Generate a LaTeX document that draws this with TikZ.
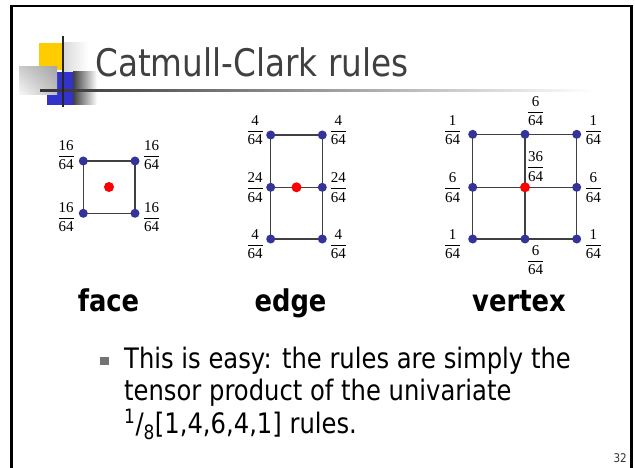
\documentclass[tikz,border=0pt]{standalone}
\usepackage{fontspec}
\usepackage{amsmath}
\setmainfont[FakeStretch=0.86]{DejaVu Sans}
\newfontfamily\fracfont{Liberation Serif}
\usepackage{xcolor}
\usepackage{tikz}
\usetikzlibrary{positioning,shadings}

\definecolor{dotblue}{RGB}{51,51,153}
\definecolor{logoyellow}{RGB}{255,204,0}
\definecolor{logoblue}{RGB}{51,51,204}
\definecolor{titlegray}{RGB}{64,64,64}
\newcommand{\wt}[2]{$\genfrac{}{}{0.9pt}{0}{\text{#1}}{\text{#2}}$}

\tikzset{
  meshline/.style={line width=1.2pt, draw=black!75},
  bluept/.style={circle, fill=dotblue, inner sep=0pt, minimum size=9pt},
  redpt/.style={circle, fill=red, inner sep=0pt, minimum size=10pt},
  wlab/.style={inner sep=0pt, font=\fracfont\fontsize{15}{17}\selectfont},
  kind/.style={anchor=base, inner sep=0pt, font=\bfseries\fontsize{30}{36}\selectfont},
  body/.style={anchor=base west, inner sep=0pt, font=\fontsize{28.2}{33}\selectfont}
}

\begin{document}
\begin{tikzpicture}[x=1pt,y=1pt]
    \useasboundingbox[fill=white] (0,0) rectangle (635,-468);

    % frame
    \draw[line width=2.5pt] (11.5,-472) -- (11.5,-5.8) -- (631.5,-5.8) -- (631.5,-472);

    % logo
    \fill[logoyellow] (39,-43) rectangle (63,-70);
    \shade[left color=gray!30, right color=white] (63,-43) rectangle (88,-72);
    \fill[logoblue] (47,-72) rectangle (73,-105);
    \shade[left color=black!75, right color=white] (73,-72) rectangle (97,-105);
    \shade[upper left=gray!40, upper right=gray!70, lower left=gray!5, lower right=gray!50] (19,-67) rectangle (57,-95);
    \shade[left color=black!80, right color=white] (40,-89.8) rectangle (594,-92);
    \draw[line width=2.5pt, black!85] (63,-36) -- (63,-107);

    % title
    \node[anchor=base west, inner sep=0pt, text=titlegray, font=\fontsize{38}{45}\selectfont] (title) at (95,-77) {Catmull-Clark rules};

    % face
    \coordinate (fa1) at (83.3,-161);
    \coordinate (fa2) at (135,-161);
    \coordinate (fa3) at (135,-213.3);
    \coordinate (fa4) at (83.3,-213.3);
    \draw[meshline] (fa1) -- (fa2) -- (fa3) -- (fa4) -- cycle;
    \node[bluept] at (fa1) {}; \node[bluept] at (fa2) {};
    \node[bluept] at (fa3) {}; \node[bluept] at (fa4) {};
    \node[redpt] (fac) at (109,-187) {};
    \node[wlab] (fal1) at (66,-155) {\wt{16}{64}};
    \node[wlab] (fal2) at (151.7,-155) {\wt{16}{64}};
    \node[wlab] (fal3) at (151.7,-217) {\wt{16}{64}};
    \node[wlab] (fal4) at (66,-217) {\wt{16}{64}};

    % edge
    \coordinate (ed1) at (270.7,-135);
    \coordinate (ed2) at (322.3,-135);
    \coordinate (ed3) at (270.7,-187.3);
    \coordinate (ed4) at (322.3,-187.3);
    \coordinate (ed5) at (270.7,-239);
    \coordinate (ed6) at (322.3,-239);
    \draw[meshline] (ed1) -- (ed2) -- (ed6) -- (ed5) -- cycle;
    \draw[meshline] (ed3) -- (ed4);
    \node[bluept] at (ed1) {}; \node[bluept] at (ed2) {};
    \node[bluept] at (ed3) {}; \node[bluept] at (ed4) {};
    \node[bluept] at (ed5) {}; \node[bluept] at (ed6) {};
    \node[redpt] (edc) at (296.5,-187.3) {};
    \node[wlab] (edl1) at (255,-130) {\wt{4}{64}};
    \node[wlab] (edl2) at (338.3,-130) {\wt{4}{64}};
    \node[wlab] (edl3) at (255,-187.3) {\wt{24}{64}};
    \node[wlab] (edl4) at (338.3,-187.3) {\wt{24}{64}};
    \node[wlab] (edl5) at (255,-244) {\wt{4}{64}};
    \node[wlab] (edl6) at (338.3,-244) {\wt{4}{64}};

    % vertex
    \coordinate (vx11) at (472.7,-134.3);
    \coordinate (vx12) at (525,-134.3);
    \coordinate (vx13) at (576.7,-134.3);
    \coordinate (vx21) at (472.7,-187.3);
    \coordinate (vx22) at (525,-187.3);
    \coordinate (vx23) at (576.7,-187.3);
    \coordinate (vx31) at (472.7,-239);
    \coordinate (vx32) at (525,-239);
    \coordinate (vx33) at (576.7,-239);
    \draw[meshline] (vx11) -- (vx13) -- (vx33) -- (vx31) -- cycle;
    \draw[meshline] (vx21) -- (vx23);
    \draw[meshline] (vx12) -- (vx32);
    \node[bluept] at (vx11) {}; \node[bluept] at (vx12) {}; \node[bluept] at (vx13) {};
    \node[bluept] at (vx21) {}; \node[bluept] at (vx23) {};
    \node[bluept] at (vx31) {}; \node[bluept] at (vx32) {}; \node[bluept] at (vx33) {};
    \node[redpt] at (vx22) {};
    \node[wlab] (vxl1) at (452.7,-130) {\wt{1}{64}};
    \node[wlab] (vxl2) at (535.7,-111) {\wt{6}{64}};
    \node[wlab] (vxl3) at (593.3,-130) {\wt{1}{64}};
    \node[wlab] (vxl4) at (452.7,-187.3) {\wt{6}{64}};
    \node[wlab] (vxl5) at (535.7,-166.7) {\wt{36}{64}};
    \node[wlab] (vxl6) at (593.3,-187.3) {\wt{6}{64}};
    \node[wlab] (vxl7) at (452.7,-244) {\wt{1}{64}};
    \node[wlab] (vxl8) at (535.7,-260) {\wt{6}{64}};
    \node[wlab] (vxl9) at (593.3,-244) {\wt{1}{64}};

    % captions
    \node[kind] (face) at (108.5,-311.5) {face};
    \node[kind] (edge) at (290.5,-311.5) {edge};
    \node[kind] (vertex) at (519,-311.5) {vertex};

    % bullet text
    \node[fill=black!55, inner sep=0pt, minimum size=8.5pt] (bullet) at (104.5,-361) {};
    \node[body] (line1) at (124,-368) {This is easy: the rules are simply the};
    \node[body] (line2) at (124,-400.5) {tensor product of the univariate};
    \node[body] (line3) at (124,-433) {\textsuperscript{1}/\textsubscript{8}[1,4,6,4,1] rules.};

    % page number
    \node[anchor=base east, inner sep=0pt, text=black!80, font=\fontsize{12}{14}\selectfont] (pageno) at (627,-462) {32};
\end{tikzpicture}
\end{document}
